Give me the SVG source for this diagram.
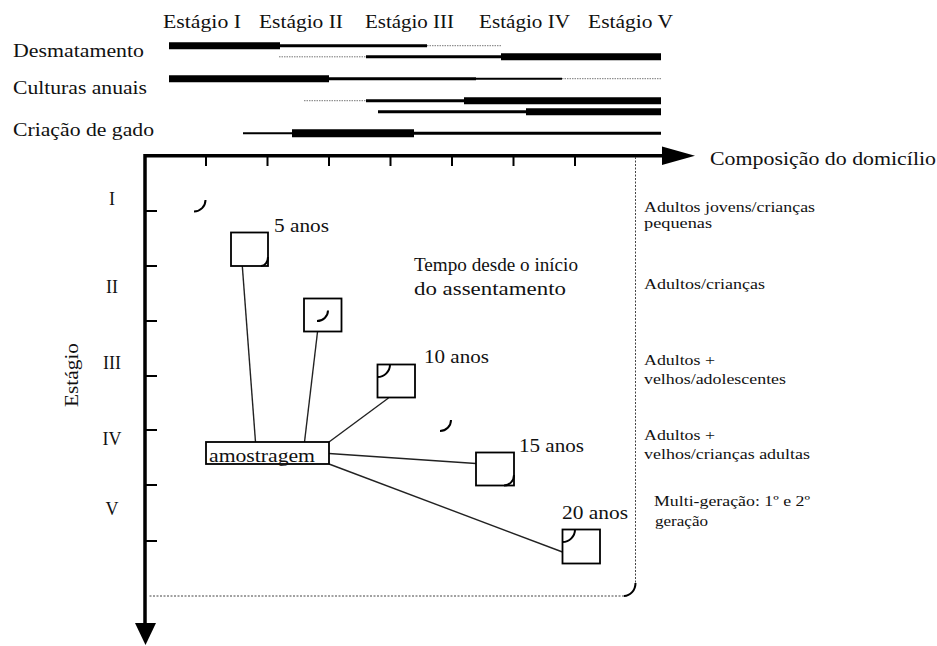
<svg xmlns="http://www.w3.org/2000/svg" width="937" height="646" viewBox="0 0 937 646">
<style>
text{font-family:"Liberation Serif","Times New Roman",serif;fill:#111;}
.t18{font-size:18px;}
.t15{font-size:15px;}
.thick{stroke:#000;stroke-width:7;}
.med{stroke:#000;stroke-width:3;}
.thin{stroke:#000;stroke-width:2;}
.dot{stroke:#777;stroke-width:1;stroke-dasharray:1.5 1;}
.axis{stroke:#000;stroke-width:3.5;fill:none;}
.tick{stroke:#000;stroke-width:2;}
.box{fill:#fff;stroke:#000;stroke-width:1.8;}
.arc{fill:none;stroke:#000;stroke-width:2;}
.conn{stroke:#222;stroke-width:1.4;fill:none;}
.dbox{stroke:#444;stroke-width:1;stroke-dasharray:2 1.5;fill:none;}
</style>
<rect width="937" height="646" fill="#fff"/>

<g id="stage-header">
<text class="t18" x="163" y="28" textLength="78" lengthAdjust="spacingAndGlyphs">Estágio I</text>
<text class="t18" x="259" y="28" textLength="84" lengthAdjust="spacingAndGlyphs">Estágio II</text>
<text class="t18" x="365" y="28" textLength="89" lengthAdjust="spacingAndGlyphs">Estágio III</text>
<text class="t18" x="479" y="28" textLength="91" lengthAdjust="spacingAndGlyphs">Estágio IV</text>
<text class="t18" x="588" y="28" textLength="85" lengthAdjust="spacingAndGlyphs">Estágio V</text>
</g>

<g id="activity-labels">
<text class="t18" x="13" y="56.5" textLength="131" lengthAdjust="spacingAndGlyphs">Desmatamento</text>
<text class="t18" x="13" y="93.5" textLength="134" lengthAdjust="spacingAndGlyphs">Culturas anuais</text>
<text class="t18" x="13" y="136" textLength="141" lengthAdjust="spacingAndGlyphs">Criação de gado</text>
</g>

<g id="activity-bars">
<line class="thick" x1="169" y1="45.7" x2="280" y2="45.7"/>
<line class="med" x1="280" y1="45.7" x2="427" y2="45.7"/>
<line class="dot" x1="427" y1="45.7" x2="501" y2="45.7"/>

<line class="dot" x1="279" y1="56.8" x2="366" y2="56.8"/>
<line class="med" x1="366" y1="56.8" x2="501" y2="56.8"/>
<line class="thick" x1="501" y1="56.8" x2="661" y2="56.8"/>

<line class="thick" x1="169" y1="78.7" x2="329" y2="78.7"/>
<line class="med" x1="329" y1="78.7" x2="476" y2="78.7"/>
<line class="thin" x1="476" y1="78.7" x2="562" y2="78.7"/>
<line class="dot" x1="562" y1="78.7" x2="661" y2="78.7"/>

<line class="dot" x1="304" y1="100.7" x2="366" y2="100.7"/>
<line class="med" x1="366" y1="100.7" x2="464" y2="100.7"/>
<line class="thick" x1="464" y1="100.7" x2="661" y2="100.7"/>

<line class="med" x1="378" y1="111.7" x2="526" y2="111.7"/>
<line class="thick" x1="526" y1="111.7" x2="661" y2="111.7"/>

<line class="thin" x1="243" y1="133.3" x2="292" y2="133.3"/>
<line class="thick" x1="292" y1="133.3" x2="414" y2="133.3" style="stroke-width:8"/>
<line class="med" x1="414" y1="133.3" x2="661" y2="133.3"/>
</g>

<g id="axes">
<path class="axis" d="M145,625 V155.7 H665" stroke-linejoin="miter"/>
<polygon points="135,623 156,623 145.5,645" fill="#000"/>
<polygon points="662,146.5 662,165 695,155.7" fill="#000"/>
<line class="tick" x1="145" y1="211" x2="157" y2="211"/>
<line class="tick" x1="145" y1="266" x2="157" y2="266"/>
<line class="tick" x1="145" y1="321" x2="157" y2="321"/>
<line class="tick" x1="145" y1="376" x2="157" y2="376"/>
<line class="tick" x1="145" y1="430" x2="157" y2="430"/>
<line class="tick" x1="145" y1="485" x2="157" y2="485"/>
<line class="tick" x1="145" y1="541" x2="157" y2="541"/>
<line class="tick" x1="206" y1="155.7" x2="206" y2="166"/>
<line class="tick" x1="267.5" y1="155.7" x2="267.5" y2="166"/>
<line class="tick" x1="329" y1="155.7" x2="329" y2="166"/>
<line class="tick" x1="390.5" y1="155.7" x2="390.5" y2="166"/>
<line class="tick" x1="452" y1="155.7" x2="452" y2="166"/>
<line class="tick" x1="513.5" y1="155.7" x2="513.5" y2="166"/>
<line class="tick" x1="575" y1="155.7" x2="575" y2="166"/>
<text class="t18" x="710" y="165" textLength="226" lengthAdjust="spacingAndGlyphs">Composição do domicílio</text>
<text class="t18" x="78" y="407" transform="rotate(-90 78 407)" textLength="64" lengthAdjust="spacingAndGlyphs">Estágio</text>
<text class="t18" x="112" y="205" text-anchor="middle">I</text>
<text class="t18" x="112" y="293" text-anchor="middle">II</text>
<text class="t18" x="112" y="369" text-anchor="middle">III</text>
<text class="t18" x="112" y="445" text-anchor="middle">IV</text>
<text class="t18" x="112" y="515" text-anchor="middle">V</text>
</g>

<g id="frame">
<path class="dbox" d="M635.5,157 V583 M624,596 H148"/>
<path class="arc" d="M635.5,583 A11.5 13 0 0 1 624,596"/>
<path class="arc" d="M194,211.5 A11.5 11.5 0 0 0 205.5,200"/>
<path class="arc" d="M440,431 A11 11 0 0 0 451,420"/>
</g>

<g id="connectors">
<line class="conn" x1="242" y1="262" x2="255.5" y2="442"/>
<line class="conn" x1="317.5" y1="332" x2="304.5" y2="442"/>
<line class="conn" x1="388.5" y1="398" x2="329" y2="442"/>
<line class="conn" x1="329" y1="453.5" x2="476" y2="463.5"/>
<line class="conn" x1="329" y1="464" x2="562.5" y2="552"/>
</g>

<g id="node-amostragem">
<rect class="box" x="206" y="442" width="123" height="22"/>
<text class="t18" x="209" y="462" textLength="106" lengthAdjust="spacingAndGlyphs">amostragem</text>
</g>

<g id="node-5anos">
<rect class="box" x="231" y="232.5" width="37" height="33.5"/>
<path class="arc" d="M261,266 A7 9 0 0 0 268,257"/>
<text class="t18" x="274" y="232" textLength="55" lengthAdjust="spacingAndGlyphs">5 anos</text>
</g>

<g id="node-box2">
<rect class="box" x="304" y="298.5" width="37.5" height="33"/>
<path class="arc" d="M317,321 A11 10.5 0 0 0 328,310.5"/>
</g>

<g id="node-10anos">
<rect class="box" x="377.5" y="364.5" width="37.5" height="33"/>
<path class="arc" d="M377.5,377 A12.5 12.5 0 0 0 390,364.5"/>
<text class="t18" x="424" y="363" textLength="65" lengthAdjust="spacingAndGlyphs">10 anos</text>
</g>

<g id="node-15anos">
<rect class="box" x="476" y="452.5" width="38" height="33"/>
<path class="arc" d="M504,485.5 A10 10.5 0 0 0 514,475"/>
<text class="t18" x="519" y="452" textLength="65" lengthAdjust="spacingAndGlyphs">15 anos</text>
</g>

<g id="node-20anos">
<rect class="box" x="562.5" y="529.5" width="37.5" height="34"/>
<path class="arc" d="M562.5,542 A12.5 12.5 0 0 0 575,529.5"/>
<text class="t18" x="562" y="519" textLength="66" lengthAdjust="spacingAndGlyphs">20 anos</text>
</g>

<g id="label-tempo">
<text class="t18" x="414" y="271" textLength="164" lengthAdjust="spacingAndGlyphs">Tempo desde o início</text>
<text class="t18" x="414" y="295" textLength="152" lengthAdjust="spacingAndGlyphs">do assentamento</text>
</g>

<g id="household-labels">
<text class="t15" x="644" y="212" textLength="171" lengthAdjust="spacingAndGlyphs">Adultos jovens/crianças</text>
<text class="t15" x="644" y="228" textLength="68" lengthAdjust="spacingAndGlyphs">pequenas</text>
<text class="t15" x="644" y="289" textLength="121" lengthAdjust="spacingAndGlyphs">Adultos/crianças</text>
<text class="t15" x="644" y="365" textLength="71" lengthAdjust="spacingAndGlyphs">Adultos +</text>
<text class="t15" x="644" y="383.5" textLength="142" lengthAdjust="spacingAndGlyphs">velhos/adolescentes</text>
<text class="t15" x="644" y="439.5" textLength="71" lengthAdjust="spacingAndGlyphs">Adultos +</text>
<text class="t15" x="644" y="458.5" textLength="166" lengthAdjust="spacingAndGlyphs">velhos/crianças adultas</text>
<text class="t15" x="654" y="506" textLength="156" lengthAdjust="spacingAndGlyphs">Multi-geração: 1º e 2º</text>
<text class="t15" x="655" y="526" textLength="53" lengthAdjust="spacingAndGlyphs">geração</text>
</g>
</svg>
